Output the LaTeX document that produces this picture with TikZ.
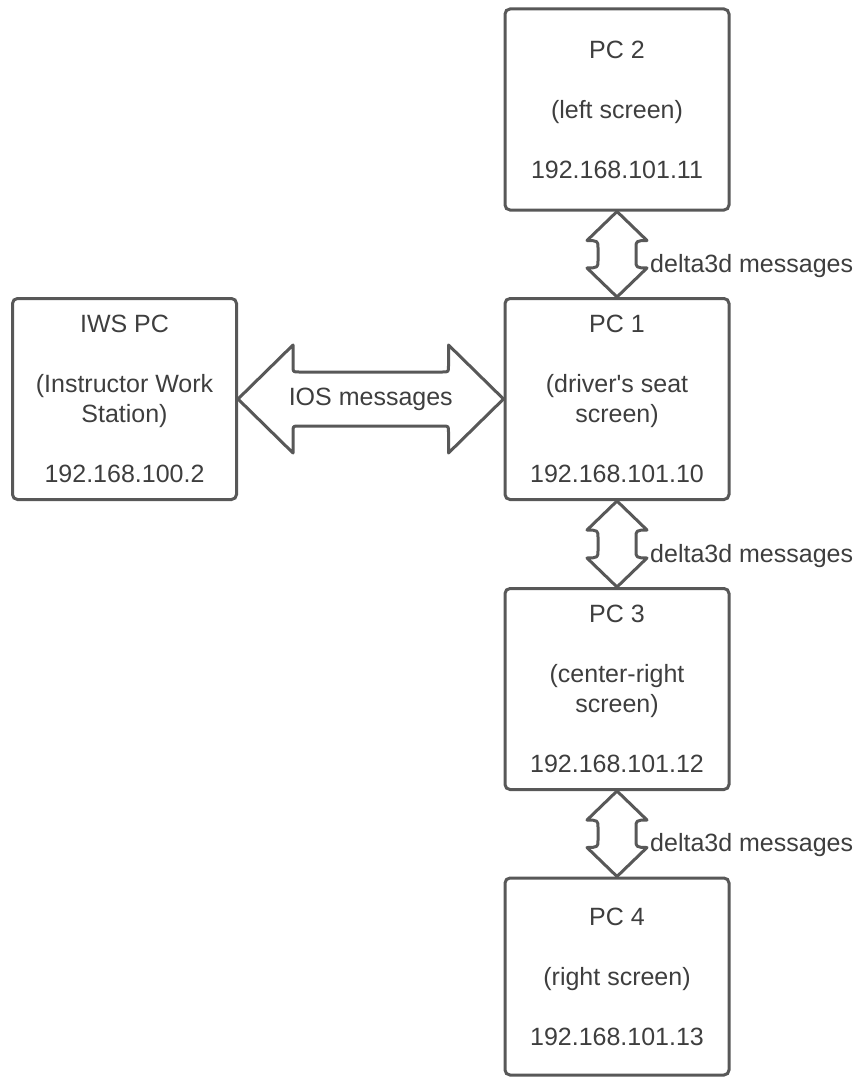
\documentclass[tikz,border=0pt]{standalone}
\usepackage{fontspec}
\setmainfont{Liberation Sans}
\usetikzlibrary{calc}
\definecolor{linegray}{RGB}{88,88,88}
\definecolor{txtgray}{RGB}{62,62,62}
\newcommand{\pcvarrow}[2]{%
 \draw[arrowshape] (#1.south) -- ($(#1.south)+(-30,29)$)
   .. controls ($(#1.south)+(-19,29)$) and ($(#1.south)+(-19,30)$) .. ($(#1.south)+(-19,36)$)
   -- ($(#2.north)+(-19,-36)$) .. controls ($(#2.north)+(-19,-30)$) and ($(#2.north)+(-19,-29)$) .. ($(#2.north)+(-30,-29)$)
   -- (#2.north) -- ($(#2.north)+(30,-29)$)
   .. controls ($(#2.north)+(19,-29)$) and ($(#2.north)+(19,-30)$) .. ($(#2.north)+(19,-36)$)
   -- ($(#1.south)+(19,36)$) .. controls ($(#1.south)+(19,30)$) and ($(#1.south)+(19,29)$) .. ($(#1.south)+(30,29)$)
   -- cycle;}
\begin{document}
\begin{tikzpicture}[x=1pt,y=-1pt,
  pcbox/.style={draw=linegray, line width=3pt, rounded corners=5pt, minimum width=224pt,
    minimum height=201pt, align=center, inner sep=0pt, text=txtgray,
    font=\fontsize{25}{30}\selectfont},
  arrowshape/.style={draw=linegray, line width=3pt, line join=round},
  msg/.style={text=txtgray, font=\fontsize{25}{30}\selectfont, inner sep=0pt}]
\useasboundingbox (0,0) rectangle (854,1078);
\node[pcbox] (pc2) at (617,109.5) {PC 2\\[30pt](left screen)\\[30pt]192.168.101.11};
\node[pcbox] (pc1) at (617,399) {PC 1\\[30pt](driver\textquotesingle s seat\\screen)\\[30pt]192.168.101.10};
\node[pcbox] (iws) at (124.5,399) {IWS PC\\[30pt](Instructor Work\\Station)\\[30pt]192.168.100.2};
\node[pcbox] (pc3) at (617,689) {PC 3\\[30pt](center-right\\screen)\\[30pt]192.168.101.12};
\node[pcbox, minimum height=197pt] (pc4) at (617,976.5) {PC 4\\[30pt](right screen)\\[30pt]192.168.101.13};

\pcvarrow{pc2}{pc1}
\pcvarrow{pc1}{pc3}
\pcvarrow{pc3}{pc4}

\node[msg, anchor=base west] (m1) at ($(pc2.south)!0.5!(pc1.north)+(33,18)$) {delta3d messages};
\node[msg, anchor=base west] (m2) at ($(pc1.south)!0.5!(pc3.north)+(33,18)$) {delta3d messages};
\node[msg, anchor=base west] (m3) at ($(pc3.south)!0.5!(pc4.north)+(33,18)$) {delta3d messages};

\draw[arrowshape] (iws.east) -- ($(iws.east)+(55,-54)$) -- ($(iws.east)+(55,-33)$)
  .. controls ($(iws.east)+(55,-27)$) .. ($(iws.east)+(61,-27)$)
  -- ($(pc1.west)+(-61,-27)$) .. controls ($(pc1.west)+(-55,-27)$) .. ($(pc1.west)+(-55,-33)$)
  -- ($(pc1.west)+(-55,-54)$) -- (pc1.west) -- ($(pc1.west)+(-55,54)$) -- ($(pc1.west)+(-55,33)$)
  .. controls ($(pc1.west)+(-55,27)$) .. ($(pc1.west)+(-61,27)$)
  -- ($(iws.east)+(61,27)$) .. controls ($(iws.east)+(55,27)$) .. ($(iws.east)+(55,33)$)
  -- ($(iws.east)+(55,54)$) -- cycle;
\node[msg] (ios) at ($(iws.east)!0.5!(pc1.west)$) {IOS messages};
\end{tikzpicture}
\end{document}
